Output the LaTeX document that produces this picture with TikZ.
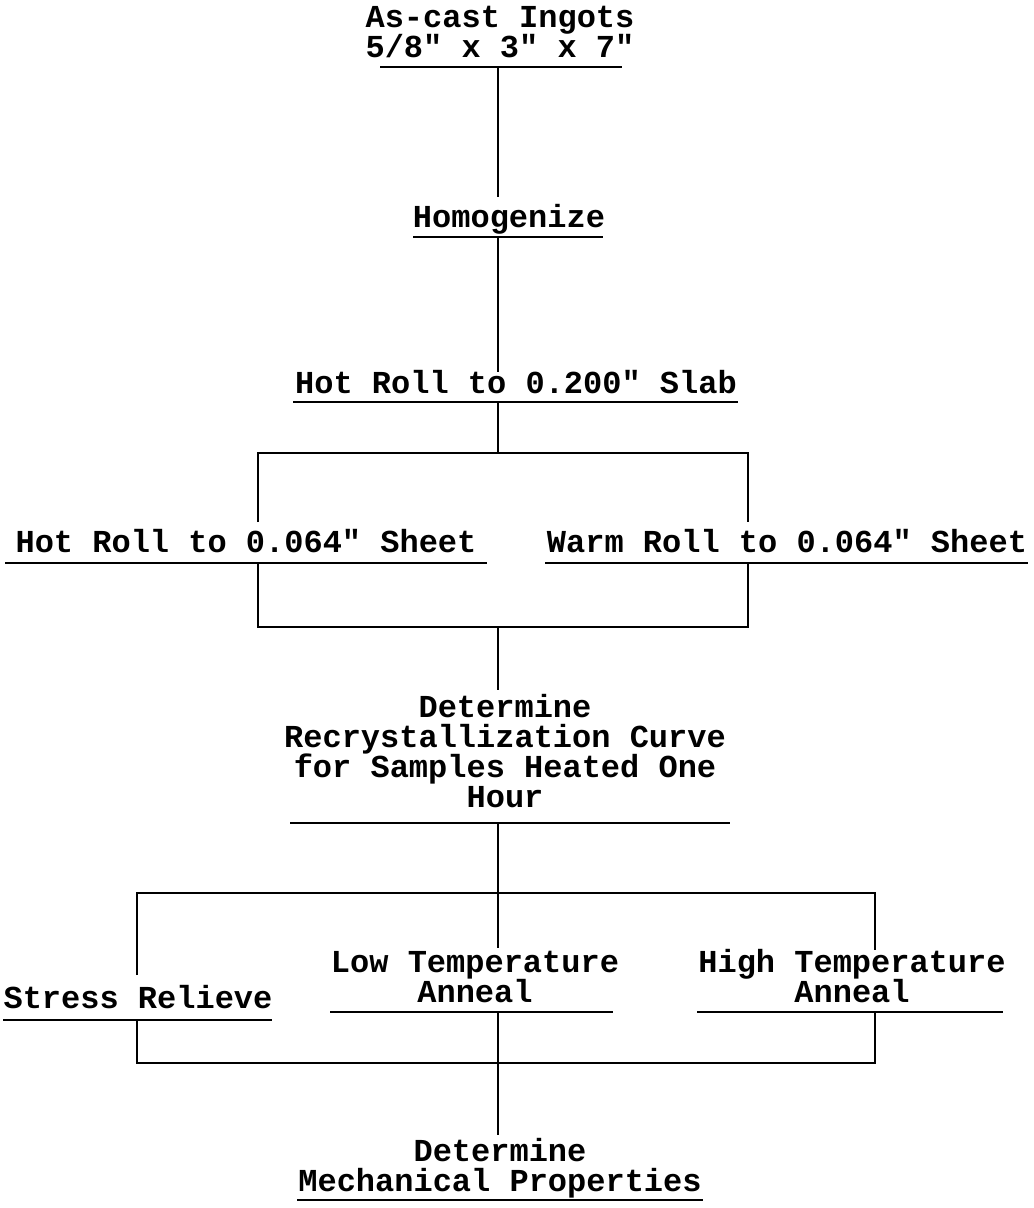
\documentclass[tikz,border=0pt]{standalone}
\usepackage{fontspec}
\setmonofont{Liberation Mono}
\newcommand\lblfont{\fontsize{16}{15}\selectfont\lineskiplimit=-30pt\relax\lineskip=0pt\relax\ttfamily\bfseries}
\begin{document}
\begin{tikzpicture}[x=0.5pt,y=-0.5pt,
  lbl/.style={font=\lblfont, inner sep=0pt, anchor=base, align=center},
  ul/.style={line width=1.4pt},
  con/.style={line width=1.4pt}]
\useasboundingbox (0,0) rectangle (1033,1208);
% texts (multi-line nodes are placed by the baseline of their last line)
\node[lbl] (ingots) at (500,58) {As-cast Ingots\\5/8" x 3" x 7"};
\node[lbl] (homog) at (509,228) {Homogenize};
\node[lbl] (slab) at (516,393) {Hot Roll to 0.200" Slab};
\node[lbl] (hot) at (246,552) {Hot Roll to 0.064" Sheet};
\node[lbl] (warm) at (787,552) {Warm Roll to 0.064" Sheet};
\node[lbl] (recr) at (505,807) {Determine\\Recrystallization Curve\\for Samples Heated One\\Hour};
\node[lbl] (stress) at (138,1008) {Stress Relieve};
\node[lbl] (low) at (475,1002) {Low Temperature\\Anneal};
\node[lbl] (high) at (852,1002) {High Temperature\\Anneal};
\node[lbl] (mech) at (500,1191) {Determine\\Mechanical Properties};
% underlines
\coordinate (ingotsU) at (498,67);
\draw[ul] (380,67) -- (622,67);
\coordinate (homogU) at (498,237);
\draw[ul] (413,237) -- (603,237);
\coordinate (slabU) at (498,402);
\draw[ul] (293,402) -- (738,402);
\coordinate (hotU) at (258,563);
\draw[ul] (5,563) -- (487,563);
\coordinate (warmU) at (748,563);
\draw[ul] (545,563) -- (1028,563);
\coordinate (recrU) at (498,823);
\draw[ul] (290,823) -- (730,823);
\coordinate (stressU) at (137,1020);
\draw[ul] (3,1020) -- (272,1020);
\coordinate (lowU) at (498,1012);
\draw[ul] (330,1012) -- (613,1012);
\coordinate (highU) at (875,1012);
\draw[ul] (697,1012) -- (1003,1012);
\draw[ul] (297,1200) -- (703,1200);
% tops of connectors
\coordinate (homogT) at (498,197);
\coordinate (slabT) at (498,372);
\coordinate (hotT) at (258,522);
\coordinate (warmT) at (748,522);
\coordinate (recrT) at (498,690);
\coordinate (stressT) at (137,975);
\coordinate (lowT) at (498,948);
\coordinate (highT) at (875,950);
\coordinate (mechT) at (498,1135);
% connectors
\draw[con] (ingotsU) -- (homogT);
\draw[con] (homogU) -- (slabT);
\draw[con] (slabU) -- (498,453);
\draw[con] (hotT) |- (498,453) -| (warmT);
\draw[con] (hotU) |- (498,627) -| (warmU);
\draw[con] (498,627) -- (recrT);
\draw[con] (recrU) -- (lowT);
\draw[con] (stressT) |- (498,893) -| (highT);
\draw[con] (stressU) |- (498,1063) -| (highU);
\draw[con] (lowU) -- (mechT);
\end{tikzpicture}
\end{document}
